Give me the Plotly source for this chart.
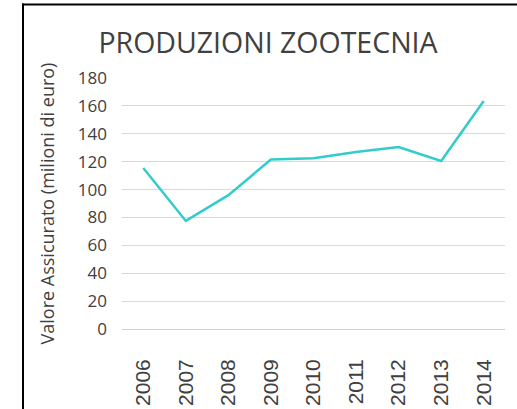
import plotly.graph_objects as go

years = ["2006", "2007", "2008", "2009", "2010", "2011", "2012", "2013", "2014"]
values = [115.5, 77.5, 96, 121.5, 122.5, 127, 130.5, 120.5, 163.5]
y_ticks = [0, 20, 40, 60, 80, 100, 120, 140, 160, 180]

W, H = 517, 409
PL, PR, PT, PB = 122, 505, 78, 329  # plot area in pixels
L, R, T, B = PL, W - PR, PT, H - PB

fig = go.Figure()
fig.add_trace(go.Scatter(
    x=years, y=values, mode="lines",
    line=dict(color="#33CCCC", width=2.5),
    hoverinfo="skip", showlegend=False,
))

font_family = "Open Sans, Liberation Sans, sans-serif"
narrow_family = "Liberation Sans Narrow, Arial Narrow, Liberation Sans, sans-serif"
text_color = "#404040"

def pix_shape(x0, x1, y0, y1, **kw):
    # pixel coordinates measured from the top-left of the figure
    d = dict(xref="paper", yref="paper", layer="above",
             xsizemode="pixel", ysizemode="pixel", xanchor=0, yanchor=1,
             x0=x0 - PL, x1=x1 - PL, y0=PT - y0, y1=PT - y1)
    d.update(kw)
    return d

fig.update_layout(
    width=W, height=H,
    margin=dict(l=L, r=R, t=T, b=B, autoexpand=False),
    paper_bgcolor="white", plot_bgcolor="white",
    hovermode=False,
    title=dict(
        text="PRODUZIONI ZOOTECNIA",
        x=268 / W, xref="container", xanchor="center",
        y=1 - 43 / H, yref="container", yanchor="middle",
        font=dict(family=font_family, size=28.5, color=text_color),
    ),
    xaxis=dict(
        type="category", range=[-0.5, len(years) - 0.5],
        tickangle=-90, showgrid=False, zeroline=False, automargin=False,
        showline=False, ticks="", ticklabelstandoff=25,
        tickfont=dict(family=narrow_family, size=21, color=text_color),
    ),
    yaxis=dict(
        range=[0, 180], tickvals=y_ticks, showgrid=True, automargin=False,
        gridcolor="#d9d9d9", gridwidth=1, zeroline=True,
        zerolinecolor="#d0d0d0", zerolinewidth=1, showline=False,
        ticks="", ticklabelstandoff=14,
        tickfont=dict(family=font_family, size=17, color=text_color),
        title=dict(text="Valore Assicurato (milioni di euro)", standoff=18,
                   font=dict(family=font_family, size=18, color=text_color)),
    ),
    shapes=[
        # top border (filled bar)
        pix_shape(22, 530, 3.5, 5.5, type="rect", fillcolor="black",
                  line=dict(width=0)),
        # left border (filled bar)
        pix_shape(22, 24, 3.5, 430, type="rect", fillcolor="black",
                  line=dict(width=0)),
    ],
)

fig.write_html(
    "out.html",
    config={"displayModeBar": False, "staticPlot": True},
    post_script="document.body.style.margin='0';document.body.style.overflow='hidden';",
)
